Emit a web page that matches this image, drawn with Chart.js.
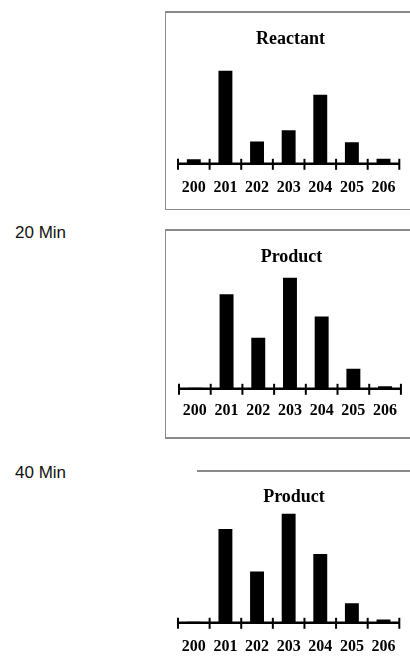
<!DOCTYPE html>
<html>
<head>
<meta charset="utf-8">
<script src="https://cdn.jsdelivr.net/npm/chart.js@4/dist/chart.umd.min.js"></script>
<style>
  body { margin: 0; background: #fff; width: 410px; height: 665px; position: relative; overflow: hidden; }
  canvas { position: absolute; left: 165px; }
  .line { position: absolute; background: #8a8a8a; }
  .lbl { position: absolute; left: 15px; font: 17px "Liberation Sans", Arial, sans-serif; color: #111; }
</style>
</head>
<body>
<div class="line" style="left:165px; top:11px; width:245px; height:1.5px"></div>
<div class="line" style="left:165px; top:11px; width:1.2px; height:199px"></div>
<div class="line" style="left:165px; top:209px; width:245px; height:1.2px"></div>

<div class="line" style="left:165px; top:229px; width:245px; height:1.5px"></div>
<div class="line" style="left:165px; top:229px; width:1.2px; height:208px"></div>
<div class="line" style="left:165px; top:437px; width:245px; height:1.5px"></div>

<div class="line" style="left:197px; top:470px; width:213px; height:1.5px"></div>

<div class="lbl" style="top:223px">20 Min</div>
<div class="lbl" style="top:463px">40 Min</div>

<canvas id="c1" width="245" height="200" style="top:12px"></canvas>
<canvas id="c2" width="245" height="208" style="top:230px"></canvas>
<canvas id="c3" width="245" height="201" style="top:470px"></canvas>

<script>
// mass channels (m/z)
const masses = ['200', '201', '202', '203', '204', '205', '206'];

// relative intensity, % of the largest peak in each spectrum
const reactant = [5, 100, 24, 36, 74, 23, 5.5];
const product20 = [1, 85, 46, 100, 65, 18, 2.3];
const product40 = [1, 86, 47, 100, 63, 18, 3];

// draws the baseline and the tick marks between the bars
const axisTicks = {
    id: 'axisTicks',
    afterDatasetsDraw(chart) {
        const x = chart.scales.x;
        const y0 = chart.chartArea.bottom;
        const ctx = chart.ctx;
        const n = masses.length;
        ctx.save();
        ctx.strokeStyle = '#000';
        ctx.lineWidth = 2.5;
        ctx.beginPath();
        ctx.moveTo(x.getPixelForValue(-0.5), y0);
        ctx.lineTo(x.getPixelForValue(n - 0.5), y0);
        ctx.stroke();
        ctx.lineWidth = 2;
        for (let i = 0; i <= n; i++) {
            const px = x.getPixelForValue(i - 0.5);
            ctx.beginPath();
            ctx.moveTo(px, y0 - 5);
            ctx.lineTo(px, y0 + 6);
            ctx.stroke();
        }
        ctx.restore();
    }
};

function spectrum(id, title, values, pad) {
    new Chart(document.getElementById(id), {
        type: 'bar',
        data: {
            labels: masses,
            datasets: [{
                data: values,
                backgroundColor: '#000',
                barPercentage: 0.44,
                categoryPercentage: 1
            }]
        },
        options: {
            responsive: false,
            animation: false,
            layout: { padding: { left: pad.left, right: pad.right, bottom: pad.bottom } },
            plugins: {
                legend: { display: false },
                tooltip: { enabled: false },
                title: {
                    display: true,
                    text: title,
                    color: '#000',
                    font: { family: '"Liberation Serif", "Times New Roman", serif', size: 18, weight: 'bold' },
                    padding: { top: 17, bottom: pad.title }
                }
            },
            scales: {
                x: {
                    grid: { display: false, drawTicks: false },
                    border: { display: false },
                    ticks: {
                        color: '#000',
                        padding: pad.ticks,
                        autoSkip: false,
                        maxRotation: 0,
                        font: { family: '"Liberation Serif", "Times New Roman", serif', size: 16, weight: 'bold' }
                    }
                },
                y: { display: false, min: 0, max: 100 }
            }
        },
        plugins: [axisTicks]
    });
}

spectrum('c1', 'Reactant', reactant, { left: 13, right: 7, bottom: 1, title: 20, ticks: 14 });
spectrum('c2', 'Product', product20, { left: 14, right: 6, bottom: 5, title: 9, ticks: 12.5 });
spectrum('c3', 'Product', product40, { left: 13, right: 0, bottom: 0, title: 5, ticks: 14.5 });
</script>
</body>
</html>
